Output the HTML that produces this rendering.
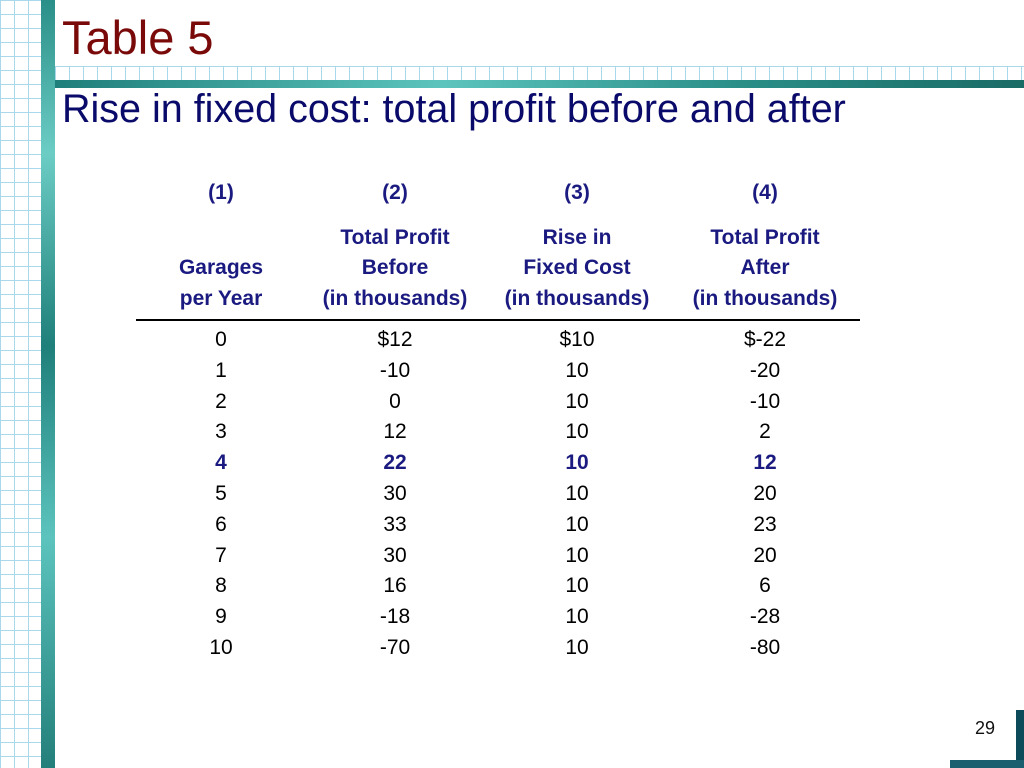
<!DOCTYPE html>
<html><head><meta charset="utf-8"><style>
body{margin:0;width:1024px;height:768px;position:relative;background:#fff;overflow:hidden;font-family:"Liberation Sans",sans-serif}
.grid{position:absolute;background-color:#fff;background-image:linear-gradient(#a8d8ea 1px,transparent 1px),linear-gradient(90deg,#a8d8ea 1px,transparent 1px);background-size:14px 14px}
.teal{position:absolute;background:linear-gradient(90deg,#1f7f7a,#5cc4bd 40%,#2a8f88 70%,#1a6b66)}
.c{position:absolute;transform:translateX(-50%);white-space:nowrap;font-size:21px;text-align:center}
.h{color:#1a1a80;font-weight:bold}
</style></head><body>
<div class="grid" style="left:0;top:0;width:41px;height:768px"></div>
<div class="teal" style="left:41px;top:0;width:14px;height:768px;background:linear-gradient(180deg,#2a8f88,#6ccdc5 20%,#1f7f7a 45%,#5cc4bd 70%,#237f7a)"></div>
<div class="grid" style="left:55px;top:66px;width:969px;height:14px"></div>
<div class="teal" style="left:55px;top:80px;width:969px;height:8px"></div>
<div style="position:absolute;left:1016px;top:710px;width:8px;height:58px;background:#0d4a5a"></div>
<div style="position:absolute;left:950px;top:760px;width:74px;height:8px;background:#1a5f70"></div>
<div style="position:absolute;left:62px;top:10px;font-size:47px;color:#7a0a0a">Table 5</div>
<div style="position:absolute;left:62px;top:87px;font-size:39.5px;color:#0a0a6a">Rise in fixed cost: total profit before and after</div>
<div id="tbl"></div>
<div style="position:absolute;left:136px;top:319px;width:724px;height:2px;background:#000"></div>
<div style="position:absolute;left:975px;top:718px;font-size:18px;color:#111">29</div>
<script>
const colX=[221,395,577,765];
const headers=[["(1)","","Garages","per Year"],["(2)","Total Profit","Before","(in thousands)"],["(3)","Rise in","Fixed Cost","(in  thousands)"],["(4)","Total Profit","After","(in  thousands)"]];
const headerY=[181,226,256,287];
const col1=["0","1","2","3","4","5","6","7","8","9","10"];
const col2=["$12","-10","0","12","22","30","33","30","16","-18","-70"];
const col3=["$10","10","10","10","10","10","10","10","10","10","10"];
const col4=["$-22","-20","-10","2","12","20","23","20","6","-28","-80"];
const cols=[col1,col2,col3,col4];
const tbl=document.getElementById('tbl');
headers.forEach((h,ci)=>h.forEach((t,ri)=>{if(!t)return;const d=document.createElement('div');


d.className='c h';d.style.left=colX[ci]+'px';d.style.top=headerY[ri]+'px';d.textContent=t;tbl.appendChild(d);}));
cols.forEach((col,ci)=>col.forEach((t,ri)=>{const d=document.createElement('div');


d.className='c'+(ri===4?' h':'');d.style.left=colX[ci]+'px';d.style.top=(328+ri*30.8)+'px';d.textContent=t;tbl.appendChild(d);}));
</script>
</body></html>
